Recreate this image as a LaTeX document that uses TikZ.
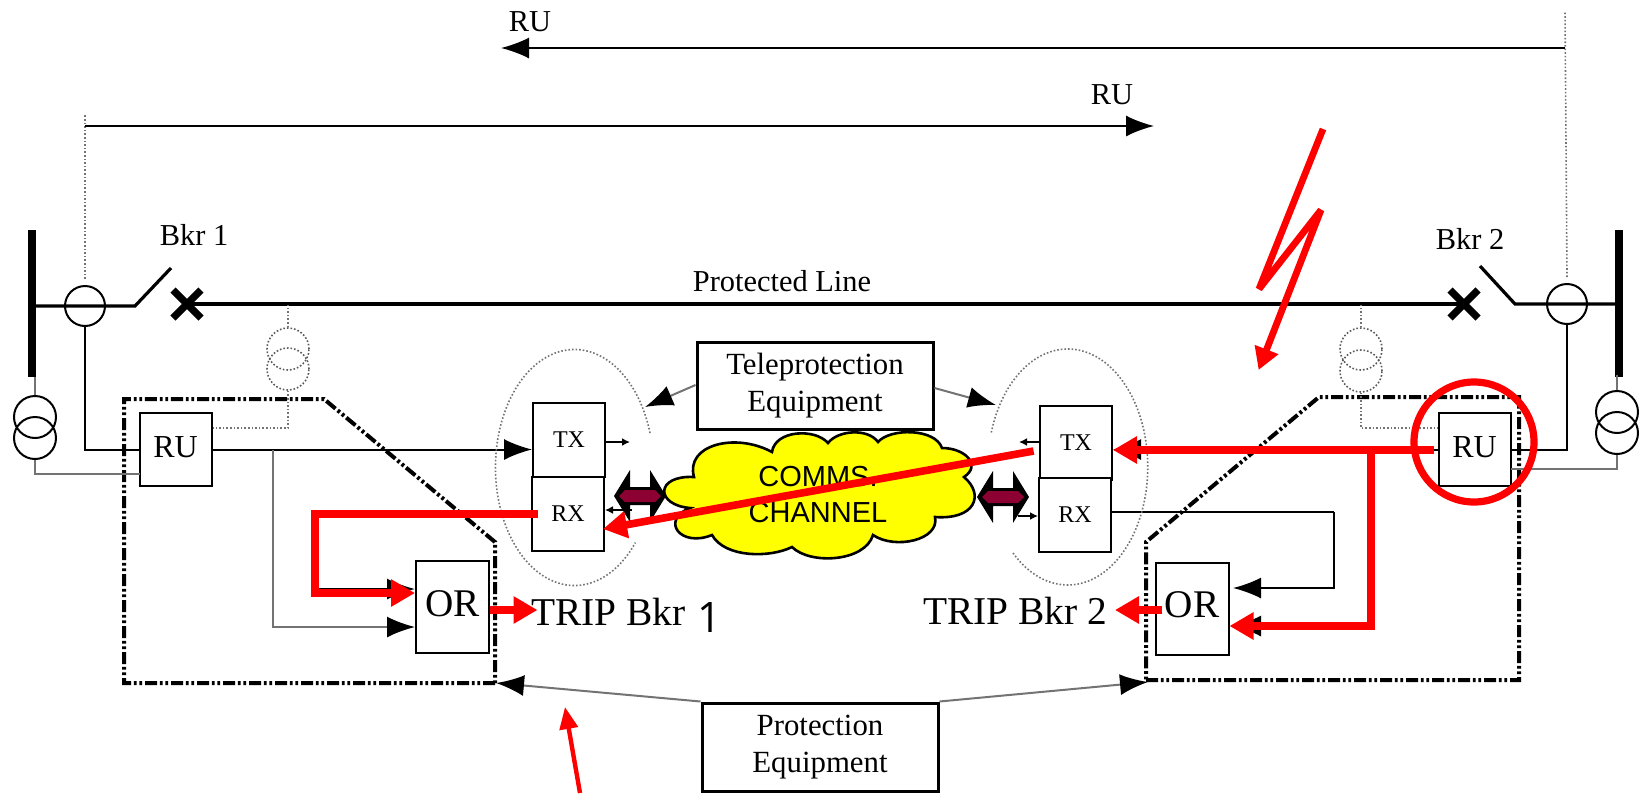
\documentclass[tikz,border=0pt]{standalone}
\usepackage{fontspec}
\setmainfont{Liberation Serif}
\newfontfamily\cloudfont{Liberation Sans}
\newfontfamily\digitfont{Open Sans}
\usetikzlibrary{arrows.meta}
\definecolor{maroonfill}{RGB}{140,0,50}
\definecolor{cloudfill}{RGB}{255,255,0}
\definecolor{redmark}{RGB}{255,0,0}
\tikzset{
  wire/.style={line width=1pt,black},
  greywire/.style={line width=1pt,black!55},
  faint/.style={line width=0.8pt,black!55,densely dotted},
  blackarrow/.style={-{Latex[color=black,length=14pt,width=10.5pt]}},
  redline/.style={line width=3.8pt,redmark,line cap=butt,line join=miter},
  redarrow/.style={redline,-{Triangle[length=12pt,width=13pt]}},
  boundary/.style={line width=2pt,black,dash pattern=on 6pt off 1.4pt on 1.4pt off 1.4pt on 1.4pt off 1.4pt},
  unitbox/.style={draw,line width=1pt,fill=white,inner sep=0pt},
  rubox/.style={unitbox,minimum width=36pt,minimum height=36.5pt,font=\fontsize{16}{18}\selectfont},
  txbox/.style={unitbox,minimum width=36pt,minimum height=37pt,font=\fontsize{12}{14}\selectfont},
  orbox/.style={unitbox,minimum width=36.5pt,minimum height=46pt,font=\fontsize{19.6}{22}\selectfont},
  labelbox/.style={draw,line width=1.5pt,fill=white,align=center,inner sep=0pt,font=\fontsize{15.4}{18.5}\selectfont},
  ring/.style={draw,circle,line width=1pt,minimum size=20pt,inner sep=0pt},
  dotring/.style={ring,line width=0.8pt,black!65,densely dotted,minimum size=21pt},
  coil/.style={ring,minimum size=21pt},
  bigtext/.style={font=\fontsize{19.7}{22}\selectfont,anchor=base west,inner sep=0pt},
  smalltext/.style={font=\fontsize{15.2}{18}\selectfont},
}
\begin{document}
\begin{tikzpicture}[x=0.5pt,y=-0.5pt,line join=miter]
  \useasboundingbox (0,0) rectangle (1644,793);
  % feeders
  \fill (28,230) rectangle (36,377);
  \fill (1615,230) rectangle (1623,377);
  \node[ring] (ctleft) at (85,306) {};
  \node[ring] (ctright) at (1567,304) {};
  \coordinate (busleft) at (32,306);
  \coordinate (busright) at (1619,304);
  \coordinate (hingeleft) at (135,306);
  \coordinate (hingeright) at (1515,304);
  \coordinate (xleft) at (187,304);
  \coordinate (xright) at (1464,304);
  \draw[line width=1.6pt] (busleft) -- (hingeleft) -- (171,268);
  \draw[line width=1.6pt] (busright) -- (hingeright) -- (1480,266);
  \draw[line width=2.2pt] (xleft) -- (xright);
  \draw[line width=3.6pt] (xleft) ++(-14,-14) -- ++(28,28) ++(0,-28) -- ++(-28,28);
  \draw[line width=3.6pt] (xright) ++(-14,-14) -- ++(28,28) ++(0,-28) -- ++(-28,28);
  \node[smalltext] (bkrone) at (194,235) {Bkr 1};
  \node[smalltext] (bkrtwo) at (1470,239) {Bkr 2};
  \node[smalltext] (linelabel) at (782,281) {Protected Line};
  % top spans
  \coordinate (spanleft) at (85,126);
  \coordinate (spanright) at (1565,48);
  \draw[faint] (ctleft.north) ++(0,-6) -- (85,115);
  \draw[faint] (ctright.north) ++(0,-6) -- (1565,12);
  \draw[wire,blackarrow] (spanleft) -- (1154,126);
  \draw[wire,blackarrow] (spanright) -- (501,48);
  \node[smalltext] (ruone) at (530,22) {RU};
  \node[smalltext] (rutwo) at (1112,95) {RU};
  % protection outlines
  \draw[boundary] (495,683) -- (124,683) -- (124,399) -- (324,399) -- (495,542) -- cycle;
  \draw[boundary] (1146,680) -- (1519,680) -- (1519,397) -- (1319,397) -- (1146,542) -- cycle;
  % voltage transformers
  \node[coil] (vtaa) at (35,417) {};
  \node[coil] (vtab) at (35,438) {};
  \node[coil] (vtba) at (1617,412) {};
  \node[coil] (vtbb) at (1617,433) {};
  \node[dotring] (vtca) at (288,349) {};
  \node[dotring] (vtcb) at (288,369) {};
  \node[dotring] (vtda) at (1361,349) {};
  \node[dotring] (vtdb) at (1361,371) {};
  \draw[greywire] (vtaa.north) -- ++(0,-18);
  \draw[greywire] (vtba.north) -- ++(0,-15);
  \draw[faint] (vtca.north) -- (288,305);
  \draw[faint] (vtda.north) -- (1361,305);
  % boxes
  \node[rubox] (ruleft) at (175.5,449.5) {\raisebox{2pt}{RU}};
  \node[rubox] (ruright) at (1474.5,449.5) {\raisebox{2pt}{RU}};
  \node[txbox] (txleft) at (569,440) {TX};
  \node[txbox] (rxleft) at (568,514) {RX};
  \node[txbox] (txright) at (1076,442.5) {TX};
  \node[txbox] (rxright) at (1075,515) {RX};
  \node[orbox] (orleft) at (452.5,607) {\raisebox{3.5pt}{OR}};
  \node[orbox] (orright) at (1192,608.5) {\raisebox{3.5pt}{OR}};
  \node[labelbox,minimum width=118pt,minimum height=43.5pt] (telebox) at (815,385.5) {Teleprotection\\Equipment};
  \node[labelbox,minimum width=118pt,minimum height=44pt] (protbox) at (820,747) {Protection\\Equipment};
  % wires
  \coordinate (branchleft) at (273,450);
  \coordinate (branchright) at (1371,450);
  \coordinate (cornerrx) at (1334,512);
  \coordinate (redcorner) at (315,589);
  \draw[wire] (ctleft.south) |- (ruleft.west);
  \draw[wire] (ctright.south) |- (ruright.east);
  \draw[greywire] (vtab.south) |- (140,474);
  \draw[greywire] (vtbb.south) |- (1511,469);
  \draw[faint] (vtcb.south) |- (ruleft.north east |- 0,428);
  \draw[faint] (vtdb.south) |- (ruright.north west |- 0,428);
  \draw[wire,blackarrow] (ruleft.east) -- (txleft.west |- ruleft.east);
  \draw[wire,blackarrow] (ruright.west) -- (txright.east |- ruright.west);
  \draw[greywire,blackarrow] (branchleft) |- (orleft.west |- 0,627);
  \draw[wire,blackarrow] (redcorner) -- (orleft.west |- redcorner);
  \draw[wire] (rxright.east |- cornerrx) -- (cornerrx);
  \draw[wire,blackarrow] (cornerrx) |- (1233,588);
  \draw[wire,blackarrow] (branchright |- 0,626) -- (1233,626);
  \draw[greywire,blackarrow] (telebox.west |- 0,385) -- (645,407);
  \draw[greywire,blackarrow] (telebox.east |- 0,388) -- (996,405);
  \draw[greywire,blackarrow] (protbox.north west) -- (496,683);
  \draw[greywire,blackarrow] (protbox.north east) -- (1148,682);
  \draw[wire,-{Latex[length=4pt,width=4pt]}] (txleft.east |- 0,442) -- (630,442);
  \draw[wire,-{Latex[length=4pt,width=4pt]}] (632,510) -- (rxleft.east |- 0,510);
  \draw[wire,-{Latex[length=4pt,width=4pt]}] (txright.west |- 0,442) -- (1019,442);
  \draw[wire,-{Latex[length=4pt,width=4pt]}] (1018,516) -- (rxright.west |- 0,516);
  % ellipses
  \draw[faint] (650,433) arc[start angle=17,end angle=320.5,x radius=39.5pt,y radius=59pt];
  \draw[faint] (1013,553) arc[start angle=226.8,end angle=523,x radius=40pt,y radius=59pt];
  % channel
  \draw[line width=1.3pt,fill=cloudfill] (694,477)
    .. controls (685,445) and (735,432) .. (772,452)
    .. controls (775,430) and (815,428) .. (828,443)
    .. controls (838,430) and (868,428) .. (878,442)
    .. controls (890,428) and (935,428) .. (942,448)
    .. controls (965,448) and (982,465) .. (964,477)
    .. controls (985,495) and (975,520) .. (935,517)
    .. controls (940,540) and (895,550) .. (873,535)
    .. controls (865,562) and (810,565) .. (792,547)
    .. controls (770,558) and (725,558) .. (712,535)
    .. controls (680,548) and (660,520) .. (690,508)
    .. controls (655,505) and (655,475) .. cycle;
  \node[font=\cloudfont\fontsize{14.5}{18}\selectfont,align=center,inner sep=0pt] (channel) at (818,495) {COMMS.\\CHANNEL};
  \foreach \cx/\cy in {640/496,1003/497} {
    \fill[black] (\cx-26,\cy) -- (\cx-10,\cy-26) -- (\cx-10,\cy-9) -- (\cx+10,\cy-9) -- (\cx+10,\cy-26)
      -- (\cx+26,\cy) -- (\cx+10,\cy+26) -- (\cx+10,\cy+9) -- (\cx-10,\cy+9) -- (\cx-10,\cy+26) -- cycle;
    \fill[maroonfill] (\cx-21,\cy) -- (\cx-15,\cy-6) -- (\cx+15,\cy-6) -- (\cx+21,\cy) -- (\cx+15,\cy+6) -- (\cx-15,\cy+6) -- cycle;
  }
  % trip labels
  \node[bigtext] (tripleft) at (531,625) {TRIP Bkr};
  \node[font=\digitfont\fontsize{21}{22}\selectfont,anchor=base west,inner sep=0pt] (tripone) at (697,632) {1};
  \node[bigtext] (tripright) at (923,624) {TRIP Bkr 2};
  % red overlay
  \draw[redline] (537.5,514) -- (315,514) -- (315,593);
  \draw[redarrow,line width=4pt] (311,593) -- (orleft.west |- 0,593);
  \draw[redarrow] (orleft.east |- 0,610) -- (537.5,610);
  \draw[redarrow] (1162,610) -- (1115,610);
  \draw[redarrow] (1033.6,451) -- (603,529);
  \draw[redarrow] (1434,450) -- (txright.east |- 0,450);
  \draw[redline,line width=4pt] (branchright) -- (1371,626);
  \draw[redarrow,line width=4pt] (1375,626) -- (orright.east |- 0,626);
  \draw[redarrow,line width=3.4pt,line join=bevel,-{Triangle[length=11pt,width=12pt]}] (1323,129) -- (1259,289) -- (1321,210) -- (1258.6,370);
  \draw[line width=2.2pt,redmark,-{Triangle[length=11pt,width=9pt]}] (580,793) -- (565,707);
  \node[draw=redmark,line width=3.6pt,circle,minimum size=60pt,inner sep=0pt] (ruring) at (1474,442) {};
\end{tikzpicture}
\end{document}
